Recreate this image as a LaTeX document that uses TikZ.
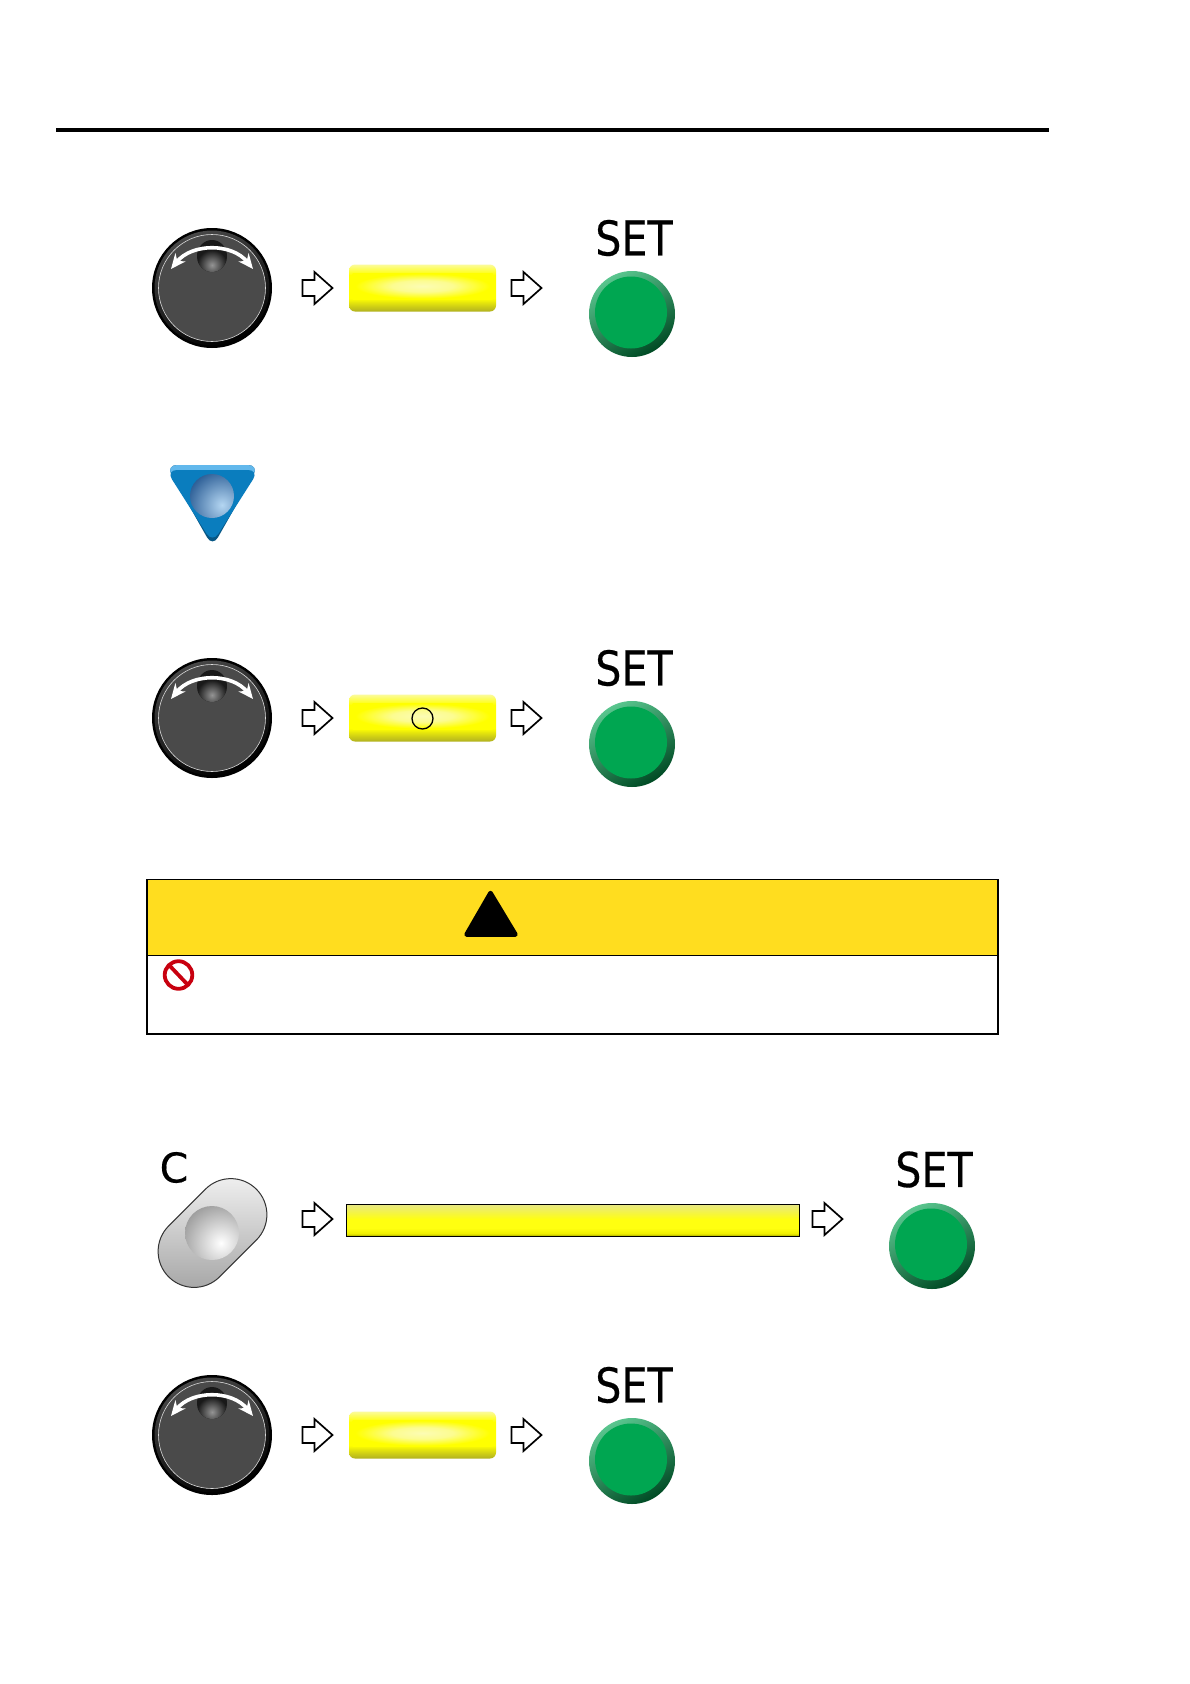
\documentclass[tikz,border=0pt]{standalone}
\usepackage{fontspec}
\setmainfont{DejaVu Sans}
\newfontfamily\setfont[FakeBold=0.35]{DejaVu Sans}
\usetikzlibrary{arrows.meta}
\definecolor{knobgrey}{HTML}{4A4A4A}
\definecolor{setgreen}{HTML}{00A651}
\definecolor{cautionyellow}{HTML}{FFDD1F}
\definecolor{stopred}{HTML}{C8000F}
\definecolor{bluebody}{HTML}{0A7DBE}
\definecolor{bluetop}{HTML}{62B8EC}
\definecolor{spherehi}{HTML}{B4D6F2}
\definecolor{spherelo}{HTML}{2C5E96}
\definecolor{lcdolive}{HTML}{B0B020}
\definecolor{lcdmid}{HTML}{DCDC10}
\definecolor{lcdyel}{HTML}{FFFF00}
\definecolor{lcdtop}{HTML}{FBFB9C}
\definecolor{lcdglowc}{HTML}{FCFCB4}
\definecolor{lcdglowb}{HTML}{FCFC90}
\definecolor{barlow}{HTML}{A8A800}
\definecolor{barmid}{HTML}{F0F000}
\definecolor{barhi}{HTML}{FFFF10}
\definecolor{bartop}{HTML}{E8E880}
\pgfdeclareverticalshading{lcdv}{100bp}{color(0bp)=(lcdolive); color(25bp)=(lcdolive); color(33bp)=(lcdmid); color(39bp)=(lcdyel); color(64bp)=(lcdyel); color(75bp)=(lcdtop); color(100bp)=(lcdtop)}
\pgfdeclareradialshading{lcdglow}{\pgfpointorigin}{color(0bp)=(lcdglowc); color(11bp)=(lcdglowb); color(24bp)=(lcdyel); color(50bp)=(lcdyel)}
\pgfdeclareverticalshading{barv}{100bp}{color(0bp)=(barlow); color(25bp)=(barlow); color(29bp)=(barmid); color(38bp)=(barhi); color(52bp)=(barhi); color(75bp)=(bartop); color(100bp)=(bartop)}
\tikzset{
  x=1pt,y=-1pt,
  labeltext/.style={inner sep=0pt,font=\setfont\fontsize{48}{48}\selectfont},
  pics/knob/.style={code={
    \fill[black] (0,0) circle[radius=60];
    \shade[shading=axis,top color=black!72,bottom color=black,shading angle=25] (0,0) circle[radius=57.5];
    \draw[white!85!black,line width=.6,fill=knobgrey] (0,0) circle[radius=53.5];
    \fill[black!90] (0,-32) ellipse[x radius=15,y radius=16];
    \begin{scope}
      \clip (0,-32) ellipse[x radius=15,y radius=16];
      \shade[inner color=black!42,outer color=black!90] (0,-23) circle[radius=15];
    \end{scope}
    \draw[white,line width=3.6,{Stealth[length=15,width=13]}-{Stealth[length=15,width=13]}]
      (-41,-19) .. controls (-20,-45) and (20,-45) .. (41,-19);
  }},
  pics/setbtn/.style={code={
    \shade[shading=axis,top color=setgreen!65!white,bottom color=setgreen!45!black,shading angle=30] (0,0) circle[radius=43];
    \fill[setgreen] (-1,-1.5) circle[radius=36];
  }},
  pics/blockarrow/.style={code={
    \draw[line width=1.7,fill=white,line join=miter]
      (-15,-8) -- (-3,-8) -- (-3,-16) -- (15,0) -- (-3,16) -- (-3,8) -- (-15,8) -- cycle;
  }},
  pics/lcd/.style={code={
    \shade[rounded corners=6,shading=lcdv] (-73.5,-23.5) rectangle (73.5,23.5);
    \shade[shading=lcdglow] (-70,-15) rectangle (70,11);
  }},
}
\begin{document}
\begin{tikzpicture}
\useasboundingbox (0,0) rectangle (1190,1684);
\fill[white] (0,0) rectangle (1190,1684);

\coordinate (ruleL) at (56,130);
\coordinate (ruleR) at (1049,130);
\draw[line width=3.2] (ruleL) -- (ruleR);

% row 1
\pic (knobA) at (212,288) {knob};
\pic (arrA1) at (317.5,288) {blockarrow};
\pic (lcdA) at (422.5,288) {lcd};
\pic (arrA2) at (526.5,288) {blockarrow};
\node[labeltext] (setA) at (634,238) {\scalebox{.86}[1]{SET}};
\pic (btnA) at (632,314) {setbtn};

% blue down key
\begin{scope}
  \fill[bluebody!70!black,rounded corners=11] (166,465) -- (259,465) -- (212.5,547) -- cycle;
  \begin{scope}
    \clip (160,460) rectangle (265,482);
    \fill[bluetop,rounded corners=11] (166,465) -- (259,465) -- (212.5,547) -- cycle;
  \end{scope}
  \fill[bluebody,rounded corners=11] (166,470) -- (259,470) -- (212.5,543) -- cycle;
  \begin{scope}
    \clip (212,496) circle[radius=22];
    \shade[inner color=spherehi,outer color=spherelo] (222,505) circle[radius=36];
  \end{scope}
\end{scope}

% row 3
\pic (knobB) at (212,718) {knob};
\pic (arrB1) at (317.5,718) {blockarrow};
\pic (lcdB) at (422.5,718) {lcd};
\node[draw,circle,line width=1.3,minimum size=21,inner sep=0pt] (mark) at (422.5,718.5) {};
\pic (arrB2) at (526.5,718) {blockarrow};
\node[labeltext] (setB) at (634,668) {\scalebox{.86}[1]{SET}};
\pic (btnB) at (632,744) {setbtn};

% caution box
\fill[cautionyellow] (147,880) rectangle (998,955.5);
\draw[line width=1.8] (147,879.5) rectangle (998,1034);
\draw[line width=1.8] (147,955.5) -- (998,955.5);
\draw[line width=4.5,line join=round,fill=black] (466.5,934.5) -- (490.5,893) -- (515.5,934.5) -- cycle;
\draw[stopred,line width=3.8] (178.5,975) circle[radius=13.8];
\draw[stopred,line width=3.8] (169,965) -- (188,985);

% clear row
\node[labeltext,font=\setfont\fontsize{41}{41}\selectfont] (labelC) at (174,1167.5) {C};
\begin{scope}[shift={(212.5,1233)},rotate=-45]
  \shade[shading=axis,top color=white!97!black,bottom color=black!38,shading angle=0,draw=black!80,line width=1,rounded corners=36]
    (-36,-62) rectangle (36,62);
\end{scope}
\begin{scope}
  \clip (212,1233) circle[radius=27];
  \shade[inner color=white,outer color=black!42] (221,1243) circle[radius=45];
\end{scope}
\pic (arrC1) at (317.5,1219) {blockarrow};
\shade[shading=barv] (347,1205) rectangle (799,1236);
\draw[line width=1] (346.5,1204.5) rectangle (799.5,1236.5);
\pic (arrC2) at (827.5,1219) {blockarrow};
\node[labeltext] (setC) at (934,1169.5) {\scalebox{.86}[1]{SET}};
\pic (btnC) at (932,1246) {setbtn};

% last row
\pic (knobD) at (212,1435) {knob};
\pic (arrD1) at (317.5,1435) {blockarrow};
\pic (lcdD) at (422.5,1435) {lcd};
\pic (arrD2) at (526.5,1435) {blockarrow};
\node[labeltext] (setD) at (634,1385) {\scalebox{.86}[1]{SET}};
\pic (btnD) at (632,1461) {setbtn};
\end{tikzpicture}
\end{document}
